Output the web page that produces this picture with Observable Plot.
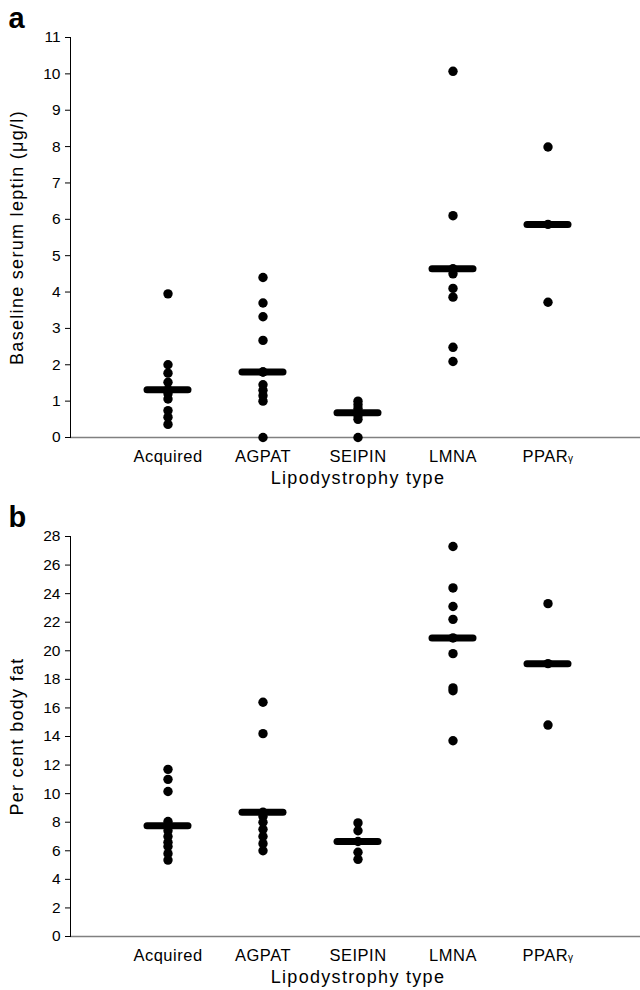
<!DOCTYPE html>
<html>
<head>
<meta charset="utf-8">
<script src="https://cdn.jsdelivr.net/npm/d3@7"></script>
<script src="https://cdn.jsdelivr.net/npm/@observablehq/plot@0.6"></script>
<style>
  html, body { margin: 0; padding: 0; background: white; }
  svg { display: block; }
</style>
</head>
<body>
<div id="chart"></div>
<script>
// ---- Data ----
const categories = ["Acquired", "AGPAT", "SEIPIN", "LMNA", "PPARγ"];

// Panel a: baseline serum leptin (µg/l)
const leptinAcquired = [3.95, 2.0, 1.77, 1.52, 1.31, 1.2, 1.06, 0.74, 0.56, 0.36];
const leptinAGPAT = [4.4, 3.7, 3.32, 2.67, 1.8, 1.8, 1.45, 1.3, 1.15, 1.0, 0];
const leptinSEIPIN = [1.0, 0.9, 0.8, 0.7, 0.6, 0.5, 0];
const leptinLMNA = [10.07, 6.1, 4.64, 4.5, 4.1, 3.86, 2.48, 2.09];
const leptinPPARG = [7.99, 5.86, 3.72];
const leptinMedians = [1.31, 1.8, 0.68, 4.64, 5.86];
const leptinTicks = [0, 1, 2, 3, 4, 5, 6, 7, 8, 9, 10, 11];

// Panel b: per cent body fat
const fatAcquired = [11.7, 11.0, 10.15, 8.05, 7.75, 7.4, 7.0, 6.6, 6.3, 5.8, 5.35];
const fatAGPAT = [16.4, 14.2, 8.7, 8.4, 8.0, 7.5, 7.0, 6.5, 6.0];
const fatSEIPIN = [7.95, 7.4, 6.65, 5.9, 5.4];
const fatLMNA = [27.3, 24.4, 23.1, 22.2, 20.9, 19.8, 17.4, 17.2, 13.7];
const fatPPARG = [23.3, 19.1, 14.8];
const fatMedians = [7.75, 8.7, 6.65, 20.9, 19.1];
const fatTicks = [0, 2, 4, 6, 8, 10, 12, 14, 16, 18, 20, 22, 24, 26, 28];

const xTitle = "Lipodystrophy type";

function toPoints(groups) {
  const out = [];
  groups.forEach((vals, i) => vals.forEach(v => out.push({type: categories[i], value: v})));
  return out;
}
function toMedians(meds) {
  return meds.map((m, i) => ({type: categories[i], median: m}));
}

function panel({letter, points, medians, yDomain, ticks, yLabel, height, marginTop, marginBottom}) {
  const chart = Plot.plot({
    width: 640,
    height,
    marginLeft: 70,
    marginRight: -5,
    marginTop,
    marginBottom,
    style: {fontFamily: "'Liberation Sans', Arial, Helvetica, sans-serif", fontSize: "15px", background: "white", color: "black"},
    x: {domain: categories, paddingInner: 0.57, paddingOuter: 0.803, axis: null},
    y: {domain: yDomain, axis: null},
    marks: [
      Plot.ruleY([0], {stroke: "#808080", strokeWidth: 1.5}),
      Plot.frame({anchor: "left", stroke: "black"}),
      Plot.axisY({ticks, tickSize: 5, tickPadding: 5, label: null}),
      Plot.axisX({tickSize: 0, tickPadding: 13, label: null}),
      Plot.tickY(medians, {x: "type", y: "median", stroke: "black", strokeWidth: 7, strokeLinecap: "round"}),
      Plot.dot(points, {x: "type", y: "value", r: 4.7, fill: "black", stroke: null}),
      Plot.text([yLabel], {frameAnchor: "left", textAnchor: "middle", rotate: -90, dx: -53}),
      Plot.text([xTitle], {frameAnchor: "bottom", textAnchor: "middle", dy: 46}),
      Plot.text([letter], {frameAnchor: "top-left", dx: -62, dy: -10, textAnchor: "start", lineAnchor: "bottom", fontWeight: "bold"})
    ]
  });
  const tickSet = new Set(ticks.map(String));
  chart.querySelectorAll("text").forEach(t => {
    const s = t.textContent;
    if (categories.includes(s)) {
      t.style.fontSize = "16.5px";
      t.style.letterSpacing = "0.5px";
      if (s === "PPARγ") {
        t.textContent = "PPAR";
        const ts = document.createElementNS("http://www.w3.org/2000/svg", "tspan");
        ts.style.fontSize = "10px";
        ts.textContent = "γ";
        t.appendChild(ts);
      }
    } else if (tickSet.has(s)) {
      t.style.fontSize = "15.5px";
    } else if (s === yLabel) {
      t.style.fontSize = "18px";
      t.style.letterSpacing = "1.3px";
    } else if (s === xTitle) {
      t.style.fontSize = "18px";
      t.style.letterSpacing = "1.3px";
    } else if (s === letter) {
      t.style.fontSize = "29px";
      t.style.fontWeight = "bold";
    }
  });
  return chart;
}

const root = document.getElementById("chart");
root.appendChild(panel({
  letter: "a",
  points: toPoints([leptinAcquired, leptinAGPAT, leptinSEIPIN, leptinLMNA, leptinPPARG]),
  medians: toMedians(leptinMedians),
  yDomain: [0, 11],
  ticks: leptinTicks,
  yLabel: "Baseline serum leptin (μg/l)",
  height: 490, marginTop: 37, marginBottom: 53
}));
root.appendChild(panel({
  letter: "b",
  points: toPoints([fatAcquired, fatAGPAT, fatSEIPIN, fatLMNA, fatPPARG]),
  medians: toMedians(fatMedians),
  yDomain: [0, 28],
  ticks: fatTicks,
  yLabel: "Per cent body fat",
  height: 500, marginTop: 46, marginBottom: 54
}));
</script>
</body>
</html>
